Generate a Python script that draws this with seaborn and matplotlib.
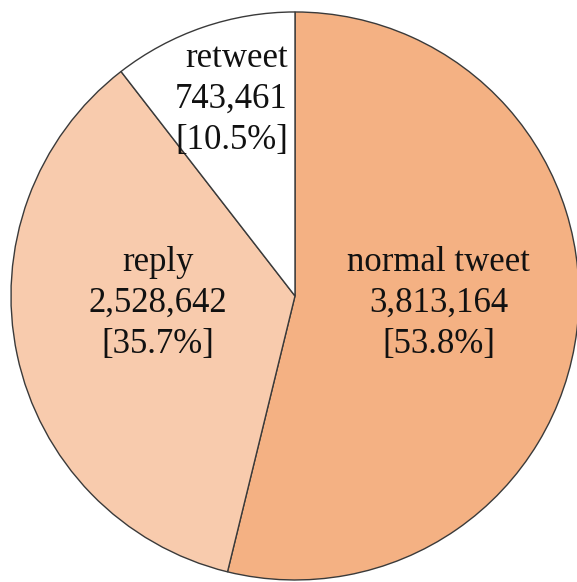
import matplotlib
matplotlib.use("Agg")
import matplotlib.pyplot as plt
import seaborn as sns

categories = ["normal tweet", "reply", "retweet"]
counts = [3813164, 2528642, 743461]
colors = ["#F4B183", "#F8CBAD", "#FFFFFF"]

sns.set_theme(style="white")
plt.rcParams["font.family"] = ["Liberation Serif", "DejaVu Serif"]

fig = plt.figure(figsize=(5.77, 5.82), dpi=100)
ax = fig.add_axes([0, 0, 1, 1])

total = sum(counts)
ax.pie(counts, colors=colors, startangle=90, counterclock=False, radius=1.0,
       wedgeprops=dict(edgecolor="#3a3a3a", linewidth=1.0))

# fixed view so the disc sits slightly off-centre and touches the right edge
ax.set_xlim(-1.0387, 0.993)
ax.set_ylim(-1.007, 1.042)
ax.set_aspect("equal")
ax.axis("off")

label_pos = {
    "normal tweet": (0.507, -0.025, "center"),
    "reply": (-0.482, -0.025, "center"),
    "retweet": (-0.025, 0.692, "right"),
}
for name, value in zip(categories, counts):
    x, y, ha = label_pos[name]
    pct = value / total * 100
    ax.text(x, y, f"{name}\n{value:,}\n[{pct:.1f}%]", ha=ha, va="center",
            multialignment=ha, fontsize=25, color="#111111", linespacing=1.32)

fig.savefig("out.png", dpi=100)
